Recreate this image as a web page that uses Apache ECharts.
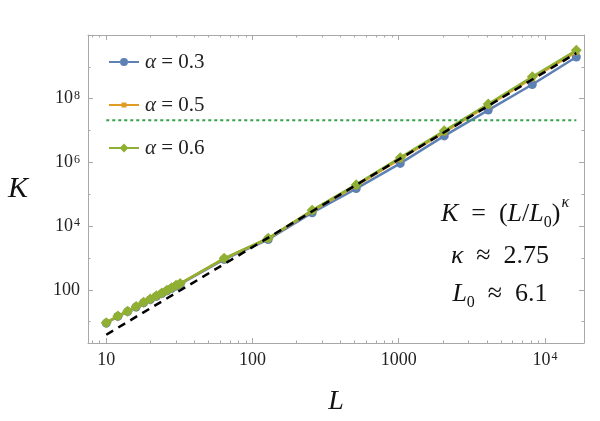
<!DOCTYPE html>
<html><head><meta charset="utf-8">
<script src="https://cdn.jsdelivr.net/npm/echarts@6/dist/echarts.min.js"></script>
<style>html,body{margin:0;padding:0;background:#fff}#c{width:600px;height:421px}</style>
</head><body><div id="c"></div>
<script>
// ---- data ----
const L = [10, 12, 14, 16, 18, 20, 22, 24, 26, 28, 30, 32, 64, 128, 256, 512, 1024, 2048, 4096, 8192, 16384];
const K_a03 = [9.0, 14.6, 20.7, 29, 39, 49, 62, 76, 93, 111, 131, 150, 900, 3800, 26300, 1.51e5, 9.3e5, 6.8e6, 4.4e7, 2.8e8, 2.04e9];
const K_a05 = [9.2, 15.0, 21.2, 29.8, 40.2, 50.6, 63.7, 78.3, 96.3, 115, 136, 156, 960, 4080, 30200, 1.86e5, 1.29e6, 8.9e6, 6.2e7, 4.4e8, 2.95e9];
const K_a06 = [9.3, 15.1, 21.4, 30.2, 40.7, 51.3, 64.6, 79.4, 97.7, 117, 138, 158, 977, 4170, 31600, 2.0e5, 1.41e6, 9.8e6, 6.8e7, 4.9e8, 3.3e9];
const fitL = [10, 16384];
const fitK = [3.9, 2.7e9];
const thrL = [10, 16384];
const thrK = [2.1e7, 2.1e7];
const seriesNames = ['α = 0.3', 'α = 0.5', 'α = 0.6'];
const xMajorExp = [1, 2, 3, 4];
const xTickLabels = ['10', '100', '1000', '10{s|4}'];
const yMajorExp = [2, 4, 6, 8];
const yTickLabels = ['100', '10{s|4}', '10{s|6}', '10{s|8}'];
const yMinorExp = [1, 3, 5, 7, 9];
const xRange = [7.5, 18490];
const yRange = [2.14, 1e10];

// ---- build ----
const xMinorExp = [];
for (let k = 0; k <= 4; k++) for (let m = 2; m <= 9; m++) {
  const v = Math.log10(m * Math.pow(10, k));
  if (v > Math.log10(xRange[0]) && v < Math.log10(xRange[1])) xMinorExp.push(v);
}
const lx = [Math.log10(xRange[0]), Math.log10(xRange[1])];
const ly = [Math.log10(yRange[0]), Math.log10(yRange[1])];
const frameColor = '#a8a8a8';
const serif = 'Liberation Serif';
const supRich = { s: { fontSize: 12, fontFamily: serif, color: '#222', verticalAlign: 'top', padding: [0, 0, 0, 1] } };

function tickAxis(range, position, ticks, len, showLine, labels, extra) {
  const ax = {
    type: 'value', min: range[0], max: range[1], position: position,
    axisLine: { show: showLine, onZero: false, lineStyle: { color: frameColor, width: 1 } },
    axisTick: { show: true, inside: true, length: len, customValues: ticks, lineStyle: { color: frameColor, width: 1 } },
    splitLine: { show: false },
    axisLabel: { show: false },
    silent: true
  };
  if (labels) {
    ax.axisLabel = {
      show: true, customValues: ticks,
      formatter: function (v) { const i = ticks.indexOf(v); return i >= 0 ? labels[i] : ''; },
      fontFamily: serif, fontSize: 18, color: '#222', rich: supRich
    };
  }
  return Object.assign(ax, extra || {});
}

const colors = ['#5e81b5', '#e19c24', '#8fb032'];
const symbols = ['circle', 'rect', 'diamond'];
const symSizes = [9, 6, 11];
const Ks = [K_a03, K_a05, K_a06];
// legend glyphs: line segment + marker, in a 30px-wide box
const legendIcons = [
  'path://M0,3L11,3L11,5L0,5Z M19,3L30,3L30,5L19,5Z M11,4A4,4 0 1,1 19,4A4,4 0 1,1 11,4Z',
  'path://M0,1.5L30,1.5L30,3.5L0,3.5Z M12.5,0L17.5,0L17.5,5L12.5,5Z',
  'path://M0,3.5L30,3.5L30,5.5L0,5.5Z M15,0L19.5,4.5L15,9L10.5,4.5Z'
];

const series = Ks.map((K, s) => ({
  name: seriesNames[s], type: 'line', xAxisIndex: 0, yAxisIndex: 0,
  data: L.map((l, i) => [l, K[i]]),
  symbol: symbols[s], symbolSize: symSizes[s], showSymbol: true,
  lineStyle: { color: colors[s], width: 2.5 }, itemStyle: { color: colors[s] },
  z: 2 + s, animation: false
}));
series.push({
  name: 'fit', type: 'line', xAxisIndex: 0, yAxisIndex: 0,
  data: fitL.map((l, i) => [l, fitK[i]]), symbol: 'none',
  lineStyle: { color: '#000', width: 2.5, type: [8, 6] }, z: 6, animation: false, silent: true
});
series.push({
  name: 'threshold', type: 'line', xAxisIndex: 0, yAxisIndex: 0,
  data: thrL.map((l, i) => [l, thrK[i]]), symbol: 'none',
  lineStyle: { color: '#34a048', width: 2, type: [3, 3] }, z: 6, animation: false, silent: true
});

const rich = { i: { fontStyle: 'italic', fontFamily: serif, fontSize: 26, color: '#111' },
  sub: { fontFamily: serif, fontSize: 16, color: '#111', verticalAlign: 'bottom', padding: [0, 0, -4, 0] },
  supi: { fontFamily: serif, fontStyle: 'italic', fontSize: 16, color: '#111', verticalAlign: 'top', padding: [-6, 0, 0, 1] } };

const chart = echarts.init(document.getElementById('c'), null, { renderer: 'canvas' });
chart.setOption({
  backgroundColor: '#fff',
  animation: false,
  grid: { left: 88, right: 16, top: 35, bottom: 78, containLabel: false, outerBoundsMode: 'none' },
  xAxis: [
    { type: 'log', min: xRange[0], max: xRange[1], show: false },
    tickAxis(lx, 'bottom', xMajorExp, 5, true, xTickLabels, {
      name: 'L', nameLocation: 'middle', nameGap: 45,
      nameTextStyle: { fontFamily: serif, fontStyle: 'italic', fontSize: 28, color: '#111' } }),
    tickAxis(lx, 'bottom', xMinorExp, 2.5, false, null),
    tickAxis(lx, 'top', xMajorExp, 5, true, null),
    tickAxis(lx, 'top', xMinorExp, 2.5, false, null)
  ],
  yAxis: [
    { type: 'log', min: yRange[0], max: yRange[1], show: false },
    tickAxis(ly, 'left', yMajorExp, 5, true, yTickLabels, {
      name: 'K', nameLocation: 'middle', nameGap: 60, nameRotate: 0,
      nameTextStyle: { fontFamily: serif, fontStyle: 'italic', fontSize: 30, color: '#111' } }),
    tickAxis(ly, 'left', yMinorExp, 2.5, false, null),
    tickAxis(ly, 'right', yMajorExp, 5, true, null),
    tickAxis(ly, 'right', yMinorExp, 2.5, false, null)
  ],
  legend: {
    data: seriesNames.map((n, s) => ({ name: n, icon: legendIcons[s] })),
    orient: 'vertical', left: 104, top: 45,
    itemWidth: 30, itemHeight: 12, itemGap: 19,
    formatter: function (n) { return '{i|α}' + n.slice(1); },
    textStyle: { fontFamily: serif, fontSize: 21, lineHeight: 24, color: '#222', padding: [0, 0, 0, 1],
      rich: { i: { fontFamily: serif, fontStyle: 'italic', fontSize: 21, lineHeight: 24, color: '#222' } } }
  },
  graphic: [
    { type: 'text', x: 505, y: 214, z: 10, silent: true,
      style: { text: '{i|K}  =  ({i|L}/{i|L}{sub|0}){supi|κ}', align: 'center', verticalAlign: 'middle',
        fontFamily: serif, fontSize: 26, fill: '#111', rich: rich } },
    { type: 'text', x: 500, y: 256, z: 10, silent: true,
      style: { text: '{i|κ}  ≈  2.75', align: 'center', verticalAlign: 'middle',
        fontFamily: serif, fontSize: 26, fill: '#111', rich: rich } },
    { type: 'text', x: 500, y: 294, z: 10, silent: true,
      style: { text: '{i|L}{sub|0}  ≈  6.1', align: 'center', verticalAlign: 'middle',
        fontFamily: serif, fontSize: 26, fill: '#111', rich: rich } }
  ],
  series: series
});
</script></body></html>
